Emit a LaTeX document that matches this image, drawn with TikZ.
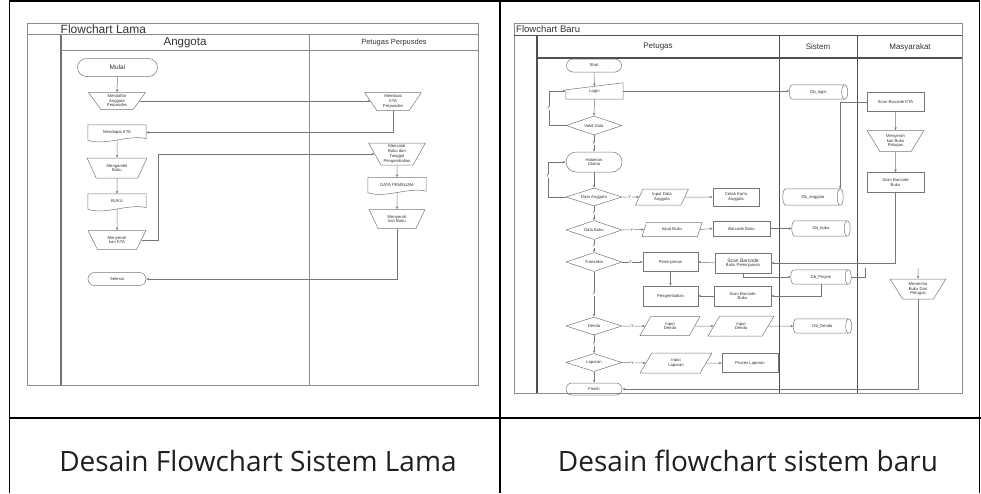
\documentclass[tikz,border=0pt]{standalone}
\usepackage{fontspec}
\setmainfont{Liberation Sans}
\newfontfamily\capfont{Open Sans}
\usetikzlibrary{shapes.geometric,shapes.misc,arrows.meta,calc}
\definecolor{lc}{HTML}{767676}
\definecolor{fc}{HTML}{8C8C8C}
\definecolor{dc}{HTML}{505050}
\definecolor{tc}{HTML}{333333}
\tikzset{
 ln/.style={draw=lc, line width=0.5pt},
 arr/.style={ln, -{Stealth[length=3pt,width=2.4pt]}},
 base/.style={inner sep=0pt, align=center, text=tc, font=\fontsize{4.2}{4.7}\selectfont},
 term/.style 2 args={base, ln, rounded rectangle, minimum width=#1, minimum height=#2},
 trap/.style 2 args={base, ln, trapezium, trapezium stretches=true, shape border rotate=180, trapezium left angle=60, trapezium right angle=60, minimum width=#1, minimum height=#2},
 para/.style 2 args={base, ln, trapezium, trapezium stretches=true, trapezium left angle=66, trapezium right angle=114, minimum width=#1, minimum height=#2},
 dia/.style 2 args={base, ln, diamond, aspect=3, minimum width=#1, minimum height=#2},
 rbox/.style 2 args={base, ln, rectangle, minimum width=#1, minimum height=#2},
 plain/.style 2 args={base, rectangle, minimum width=#1, minimum height=#2},
 lab/.style={font=\fontsize{4}{4}\selectfont, text=tc, fill=white, inner sep=0.4pt},
 frame/.style={draw=fc, line width=0.6pt},
 dframe/.style={draw=dc, line width=1pt},
 hdr/.style={text=tc, inner sep=0pt},
 tab/.style={draw=black, line width=1.6pt},
 captxt/.style={font=\capfont\fontsize{28}{32}\selectfont, text=black!88, anchor=base, inner sep=0pt},
}
\newcommand\docdraw[1]{\draw[ln] (#1.south west) -- (#1.north west) -- (#1.north east) -- ($(#1.south east)+(0,-1.5)$) .. controls ($(#1.south)+(12,-6)$) and ($(#1.south)+(-12,6)$) .. (#1.south west) -- cycle;}
\newcommand\cyldraw[1]{\draw[ln] ($(#1.north west)+(3,0)$) -- ($(#1.north east)+(-3,0)$) ($(#1.south west)+(3,0)$) -- ($(#1.south east)+(-3,0)$) ($(#1.north west)+(3,0)$) .. controls ($(#1.north west)+(-1,0)$) and ($(#1.south west)+(-1,0)$) .. ($(#1.south west)+(3,0)$);
 \draw[ln] ($(#1.north east)+(-3,0)$) .. controls ($(#1.north east)+(1,0)$) and ($(#1.south east)+(1,0)$) .. ($(#1.south east)+(-3,0)$) .. controls ($(#1.south east)+(-7,0)$) and ($(#1.north east)+(-7,0)$) .. cycle;}
\begin{document}
\begin{tikzpicture}[x=1pt,y=-1pt]
\useasboundingbox (0,0) rectangle (981,493);
% ---------- table ----------
\draw[tab] (9.5,0) -- (9.5,493);
\draw[tab] (9.5,0.8) -- (979.5,0.8);
\draw[tab] (979.5,0) -- (979.5,493);
\draw[tab] (500,0) -- (500,493);
\draw[tab] (9.5,418) -- (981,418);
\node[captxt] (cap1) at (258,471.5) {Desain Flowchart Sistem Lama};
\node[captxt] (cap2) at (748,471.5) {Desain flowchart sistem baru};

% ---------- left flowchart ----------
\draw[frame] (27,23) rectangle (478,385);
\draw[frame] (27,34.5) -- (478,34.5);
\draw[frame] (61,50.7) -- (478,50.7);
\draw[frame] (309,34.5) -- (309,385);
\draw[draw=fc!80!black, line width=1.2pt] (61,34.5) -- (61,385);
\node[hdr, anchor=west, font=\fontsize{12}{13}\selectfont] (t1) at (60.5,29) {Flowchart Lama};
\node[hdr, font=\fontsize{11.5}{12}\selectfont] (h1) at (185,42.8) {Anggota};
\node[hdr, font=\fontsize{7.5}{8}\selectfont] (h2) at (394,43) {Petugas Perpusdes};

\node[term={80pt}{18pt}, font=\fontsize{6.5}{7}\selectfont] (mulai) at (117.5,67.5) {Mulai};
\node[trap={57pt}{17pt}] (daftar) at (117,101) {Mendaftar\\Anggota\\Perpusdes};
\node[trap={57pt}{18pt}] (membuat) at (393,101.5) {Membuat\\KTA\\Perpusdes};
\node[plain={58pt}{15pt}] (kta) at (117,132.5) {Mendapat KTA};
\docdraw{kta}
\node[trap={60pt}{20pt}] (ambil) at (117,168) {Mengambil\\Buku};
\node[plain={58pt}{15pt}] (buku) at (117,201.5) {BUKU};
\docdraw{buku}
\node[trap={58pt}{19pt}] (serahkta) at (117,240) {Menyerah\\kan KTA};
\node[trap={57pt}{22pt}] (catat) at (397,154) {Mencatat\\Buku dan\\Tanggal\\Pengembalian};
\node[plain={58pt}{15pt}] (datapinjam) at (397,185) {DATA PEMINJAM};
\docdraw{datapinjam}
\node[trap={56pt}{19pt}] (serahbuku) at (397,219) {Menyerah\\kan Buku};
\node[term={58pt}{13pt}] (selesai) at (117,279) {Selesai};

\draw[arr] (mulai) -- (daftar);
\draw[arr] (daftar.east) -- (daftar.east -| membuat.west);
\draw[arr] (membuat.south) |- (kta.east);
\draw[arr] (kta.south) -- (ambil.north);
\draw[arr] (ambil.south) -- (buku.north);
\draw[arr] (buku.south) -- (serahkta.north);
\draw[arr] (serahkta.east) -- ++(17,0) |- (catat.west);
\draw[arr] (catat.south) -- (datapinjam.north);
\draw[arr] (datapinjam.south) -- (serahbuku.north);
\draw[arr] (serahbuku.south) |- (selesai.east);

% ---------- right flowchart ----------
\draw[frame] (514,23) rectangle (962,393);
\draw[dframe] (514,35) -- (962,35);
\draw[dframe, line width=1.3pt] (537,58) -- (962,58);
\draw[dframe, line width=1.3pt] (537,35) -- (537,393);
\draw[dframe, line width=0.8pt] (779,35) -- (779,393);
\draw[dframe, line width=0.8pt] (857,35) -- (857,393);
\node[hdr, anchor=west, font=\fontsize{9.5}{10}\selectfont] (t2) at (516,29) {Flowchart Baru};
\node[hdr, font=\fontsize{8}{8}\selectfont] (hp) at (658,47) {Petugas};
\node[hdr, font=\fontsize{8}{8}\selectfont] (hs) at (818,47) {Sistem};
\node[hdr, font=\fontsize{8}{8}\selectfont] (hm) at (910,47) {Masyarakat};

\node[term={55pt}{13pt}] (start) at (594,65.5) {Start};
\node[plain={57pt}{16pt}] (login) at (594.5,91) {\raisebox{-1.5pt}{Login}};
\draw[ln] (login.south west) -- ($(login.north west)+(0,7)$) -- (login.north east) -- (login.south east) -- cycle;
\node[dia={56pt}{19pt}] (valid) at (594,125.5) {Valid Data};
\node[term={56pt}{20pt}] (halaman) at (594,162) {Halaman\\Utama};
\node[dia={56pt}{18pt}] (danggota) at (594,197) {Data Anggota};
\node[para={53pt}{16pt}] (inagt) at (662,197) {Input Data\\Anggota};
\node[rbox={46pt}{18pt}] (cetak) at (736,197) {Cetak Kartu\\Anggota};
\node[plain={60pt}{16pt}] (dbagt) at (813,197) {Db\_anggota};
\cyldraw{dbagt}
\node[dia={56pt}{19pt}] (dbuku) at (594,230) {Data Buku};
\node[para={60pt}{14pt}] (inbuku) at (672,229.5) {Input Buku};
\node[rbox={57pt}{15pt}] (barcode) at (741.5,228.5) {Barcode Buku};
\node[plain={58pt}{15pt}] (dbbuku) at (821,228.5) {Db\_buku};
\cyldraw{dbbuku}
\node[dia={56pt}{19pt}] (transaksi) at (594,262) {Transaksi};
\node[rbox={55pt}{19pt}] (pinjam) at (670.5,262) {Peminjaman};
\node[rbox={55pt}{20pt}] (kembali) at (670.5,296) {Pengembalian};
\node[rbox={56pt}{20pt}] (scanpinjam) at (743,263) {{\fontsize{5}{5.5}\selectfont Scan Barcode}\\Buku Peminjaman};
\node[rbox={57pt}{20pt}] (scankembali) at (742.5,296) {Scan Barcode\\Buku};
\node[plain={60pt}{14pt}] (dbpinjam) at (821,277) {Db\_Pinjam};
\cyldraw{dbpinjam}
\node[dia={56pt}{18pt}] (denda) at (594,326) {Denda};
\node[para={60pt}{19pt}] (indenda1) at (670,326) {Input\\Denda};
\node[para={66pt}{20pt}] (indenda2) at (741,326) {Input\\Denda};
\node[plain={58pt}{14pt}] (dbdenda) at (822.5,326) {Db\_Denda};
\cyldraw{dbdenda}
\node[dia={56pt}{18pt}] (laporan) at (594,362.5) {Laporan};
\node[para={72pt}{20pt}] (inlap) at (676,363) {Input\\Laporan};
\node[rbox={56pt}{19pt}] (proses) at (750,363) {Proses Laporan};
\node[term={56pt}{12pt}] (finish) at (594,389) {Finish};
\node[plain={58pt}{14pt}] (dblogin) at (818.5,92) {Db\_login};
\cyldraw{dblogin}
\node[rbox={57pt}{19pt}] (scankta) at (895.5,102) {Scan Barcode KTA};
\node[trap={57pt}{21pt}] (serahkan) at (895.5,141) {Menyerah\\kan Buku\\Petugas};
\node[rbox={57pt}{20pt}] (scanbuku) at (895.5,182.5) {Scan Barcode\\Buku};
\node[trap={56pt}{20pt}] (terima) at (918,289) {Menerima\\Buku Dari\\Petugas};
\coordinate (tin) at (918,268);

\draw[arr] (start.south) -- ($(login.north)+(0,3.5)$);
\draw[arr] (login.east) -- (login.east -| dblogin.west);
\draw[arr] (login.south) -- (valid.north);
\draw[arr] (valid.south) -- node[lab] {Y} (halaman.north);
\draw[arr] (valid.west) -- ++(-17,0) |- node[lab, pos=0.25] {T} (login.west);
\draw[arr] (halaman.south) -- (danggota.north);
\draw[arr] (danggota.west) -- ++(-18,0) |- node[lab, pos=0.3] {T} (halaman.west);
\draw[arr] (danggota.east) -- node[lab, pos=0.45] {Y} (inagt.west);
\draw[arr] (inagt.east) -- (cetak.west);
\draw[arr] (danggota.south) -- node[lab] {T} (dbuku.north);
\draw[arr] (dbuku.east) -- node[lab, pos=0.45] {Y} (inbuku.west);
\draw[arr] (inbuku.east) -- (barcode.west);
\draw[arr] (barcode.east) -- (dbbuku.west);
\draw[arr] (dbuku.south) -- node[lab] {T} (transaksi.north);
\draw[arr] (transaksi.east) -- node[lab, pos=0.4] {Y} (pinjam.west);
\draw[arr] (pinjam.south) -- (kembali.north);
\draw[arr] (scanpinjam.west) -- (pinjam.east);
\draw[arr] (scanpinjam.south) |- (dbpinjam.west);
\draw[arr] (dbpinjam.south) |- (scankembali.east);
\draw[arr] (scankembali.west) -- (kembali.east);
\draw[arr] (scankta.west) -| ($(dbagt.north east)+(-3,0)$);
\draw[arr] (scankta.south) -- (serahkan.north);
\draw[arr] (serahkan.south) -- (scanbuku.north);
\draw[arr] (scanbuku.south) |- (scanpinjam.east);
\draw[ln] (dbpinjam.east) -- ++(14,0) -- ++(0,-9);
\draw[arr] (tin) -- (terima.north);
\draw[arr] (terima.south) |- (finish.east);
\draw[arr] (transaksi.south) -- node[lab] {T} (denda.north);
\draw[arr] (denda.east) -- node[lab, pos=0.45] {Y} (indenda1.west);
\draw[arr] (indenda1.east) -- (indenda2.west);
\draw[arr] (indenda2.east) -- (dbdenda.west);
\draw[arr] (denda.south) -- node[lab] {T} (laporan.north);
\draw[arr] (laporan.east) -- node[lab, pos=0.45] {Y} (inlap.west);
\draw[arr] (inlap.east) -- (proses.west);
\draw[arr] (laporan.south) -- (finish.north);
\end{tikzpicture}
\end{document}
